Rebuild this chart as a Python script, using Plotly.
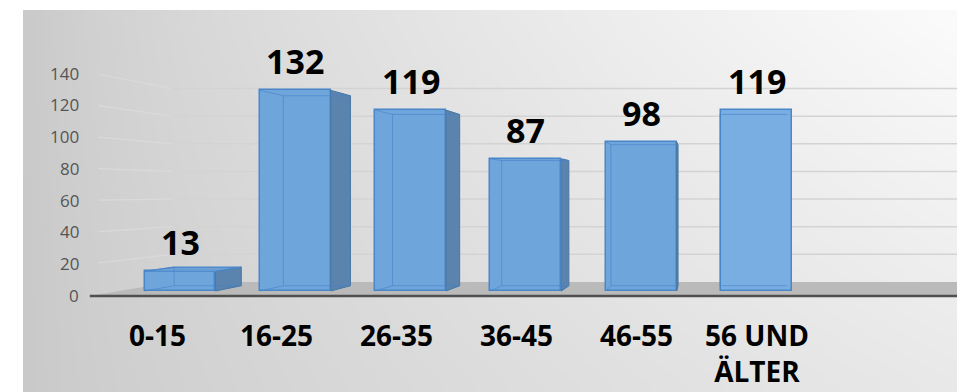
import numpy as np
import plotly.graph_objects as go

# ---------------- data ----------------
categories = ["0-15", "16-25", "26-35", "36-45", "46-55", "56 UND<br>ÄLTER"]
values = [13, 132, 119, 87, 98, 119]
y_ticks = [0, 20, 40, 60, 80, 100, 120, 140]

# ---------------- layout constants (pixel geometry of the 3D look) ----------------
W, H = 957, 392
PX0, PX_STEP = 180.0, 115.3      # pixel x of category 0 centre, pixel per category
PY0, PY_UNIT = 291.0, 1.52       # pixel y of value 0 on bar front plane, pixel per unit
VP_PX, VP_PY = 703.0, 192.0      # vanishing point (pixels)
BAR_W = 0.615
S_BAR_BACK = 0.947               # depth scale of bar backs
S_WALL = 0.909                   # depth scale of back wall
S_FLOOR_FRONT = 1.05
S_TICK = 1.045
WALL_LEFT_PX = 119.0

def cx(px):
    return (px - PX0) / PX_STEP

def vy(py):
    return (PY0 - py) / PY_UNIT

C_VP, V_VP = cx(VP_PX), vy(VP_PY)
X_RANGE = [cx(0), cx(W)]
Y_RANGE = [vy(H), vy(0)]

def proj(c, v, s):
    return C_VP + (c - C_VP) * s, V_VP + (v - V_VP) * s

fig = go.Figure()

# ---------------- background gradient panel ----------------
nx, ny = 60, 24
px_edges = np.linspace(23, W, nx + 1)
py_edges = np.linspace(10, H, ny + 1)
pxc = (px_edges[:-1] + px_edges[1:]) / 2
pyc = (py_edges[:-1] + py_edges[1:]) / 2
PXg, PYg = np.meshgrid(pxc, pyc)
t = ((PXg - 23) / (W - 23)) ** 0.7
u = 1 - (PYg - 10) / (H - 10)
gray = 200 + t * (32 + 19 * u)
fig.add_trace(go.Heatmap(
    x=[cx(p) for p in pxc], y=[vy(p) for p in pyc], z=gray,
    zmin=0, zmax=255, zsmooth="best",
    colorscale=[[0, "rgb(0,0,0)"], [1, "rgb(255,255,255)"]],
    showscale=False, hoverinfo="skip", xaxis="x", yaxis="y"))

XL = cx(WALL_LEFT_PX)
XR = cx(W) + 2

# back-wall gridlines + side-wall gridlines
for v in y_ticks[1:]:
    a = proj(XL, v, S_WALL)
    b = proj(XR, v, S_WALL)
    fig.add_trace(go.Scatter(x=[a[0], b[0]], y=[a[1], b[1]], mode="lines",
                             line=dict(color="#d3d3d3", width=1.5),
                             hoverinfo="skip", xaxis="x", yaxis="y"))
    f = proj(XL, v, 1.035)
    fig.add_trace(go.Scatter(x=[f[0], a[0]], y=[f[1], a[1]], mode="lines",
                             line=dict(color="#dadada", width=1.2),
                             hoverinfo="skip", xaxis="x", yaxis="y"))

# floor
f1 = proj(XL, 0, S_FLOOR_FRONT)
f2 = proj(XR, 0, S_FLOOR_FRONT)
f3 = proj(XR, 0, S_WALL)
f4 = proj(XL, 0, S_WALL)
fig.add_trace(go.Scatter(x=[f1[0], f2[0], f3[0], f4[0], f1[0]],
                         y=[f1[1], f2[1], f3[1], f4[1], f1[1]],
                         fill="toself", fillcolor="#bababa", mode="none",
                         hoverinfo="skip", xaxis="x", yaxis="y"))
fig.add_trace(go.Scatter(x=[f1[0], f2[0]], y=[f1[1], f2[1]], mode="lines",
                         line=dict(color="#4f4f4f", width=2.5),
                         hoverinfo="skip", xaxis="x", yaxis="y"))

# ---------------- bars (overlay subplot so they sit above the decor) ----------------
xs = list(range(len(categories)))
bar_colors = ["#6ea5db"] * (len(values) - 1) + ["#79aee3"]
fig.add_trace(go.Bar(x=xs, y=values, width=BAR_W,
                     marker=dict(color=bar_colors, line=dict(color="#4a87c9", width=1.5)),
                     hoverinfo="skip", xaxis="x", yaxis="y2"))

for i, v in enumerate(values):
    xl, xr = i - BAR_W / 2, i + BAR_W / 2
    # right side face
    if xr < C_VP:
        p = [proj(xr, 0, 1), proj(xr, v, 1), proj(xr, v, S_BAR_BACK), proj(xr, 0, S_BAR_BACK)]
        fig.add_trace(go.Scatter(x=[q[0] for q in p] + [p[0][0]], y=[q[1] for q in p] + [p[0][1]],
                                 fill="toself", fillcolor="#5a83ad", mode="lines",
                                 line=dict(color="#4877a6", width=1),
                                 hoverinfo="skip", xaxis="x", yaxis="y2"))
    # top face (visible only below eye level)
    if v < V_VP:
        p = [proj(xl, v, 1), proj(xr, v, 1), proj(xr, v, S_BAR_BACK), proj(xl, v, S_BAR_BACK)]
        fig.add_trace(go.Scatter(x=[q[0] for q in p] + [p[0][0]], y=[q[1] for q in p] + [p[0][1]],
                                 fill="toself", fillcolor="#6c9fd4", mode="lines",
                                 line=dict(color="#4a87c9", width=1.2),
                                 hoverinfo="skip", xaxis="x", yaxis="y2"))
    # hidden back edges seen through the translucent bar
    b0 = proj(xl, 0, S_BAR_BACK)
    b1 = proj(xl, v, S_BAR_BACK)
    b2 = proj(min(xr, C_VP + 10), v, S_BAR_BACK)
    b3 = proj(xr, 0, S_BAR_BACK)
    t0 = (xl, v)
    g0 = (xl, 0)
    ex = [t0[0], b1[0], None, b1[0], b0[0], None, g0[0], b0[0], b3[0]]
    ey = [t0[1], b1[1], None, b1[1], b0[1], None, g0[1], b0[1], b3[1]]
    if v >= V_VP:
        ex += [None, b1[0], b2[0]]
        ey += [None, b1[1], b2[1]]
    fig.add_trace(go.Scatter(x=ex, y=ey, mode="lines",
                             line=dict(color="rgba(70,130,200,0.6)", width=1),
                             hoverinfo="skip", xaxis="x", yaxis="y2"))

# ---------------- text ----------------
annotations = []
LABEL_FONT = "Open Sans"
for i, v in enumerate(values):
    annotations.append(dict(x=i, y=v, xref="x", yref="y", text=str(v), showarrow=False,
                            yanchor="middle", yshift=29,
                            font=dict(family=LABEL_FONT, size=34, color="#000000", weight=700)))

C_LBL = cx(755)
for i, cat in enumerate(categories):
    annotations.append(dict(x=C_LBL + (i - C_LBL) * 1.04, y=vy(314), xref="x", yref="y",
                            text=cat, showarrow=False, yanchor="top", xanchor="center",
                            font=dict(family=LABEL_FONT, size=28, color="#000000", weight=700)))

for tv in y_ticks:
    _, ty = proj(XL, tv, S_TICK)
    annotations.append(dict(x=cx(81), y=ty, xref="x", yref="y", text=str(tv), showarrow=False,
                            xanchor="right", yanchor="middle",
                            font=dict(family=LABEL_FONT, size=17, color="#555555")))

fig.update_layout(
    width=W, height=H, margin=dict(l=0, r=0, t=0, b=0, pad=0),
    paper_bgcolor="#ffffff", plot_bgcolor="#ffffff",
    showlegend=False, hovermode=False, bargap=0,
    xaxis=dict(range=X_RANGE, visible=False, fixedrange=True),
    yaxis=dict(range=Y_RANGE, visible=False, fixedrange=True),
    yaxis2=dict(range=Y_RANGE, visible=False, overlaying="y", fixedrange=True),
    annotations=annotations,
)

fig.write_html("out.html")
